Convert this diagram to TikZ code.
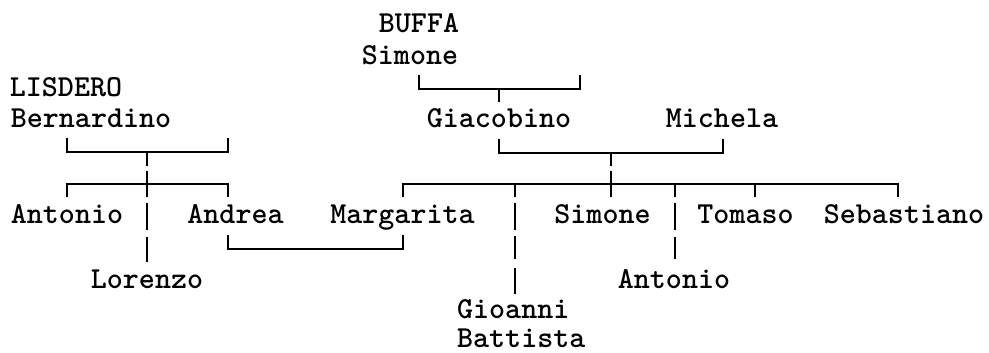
\documentclass[tikz,border=0pt]{standalone}
\begin{document}
\begin{tikzpicture}[x=1pt,y=-1pt,
  person/.style={font=\ttfamily\bfseries\fontsize{30.5}{32}\selectfont, inner sep=0pt, anchor=base, text depth=0pt},
  link/.style={line width=1.6pt, line cap=butt}]
\useasboundingbox[fill=white] (0,0) rectangle (989,353);
% names
\node[person] (buffa) at (419,33) {BUFFA};
\node[person] (simoneB) at (410,65) {Simone};
\node[person] (lisdero) at (66,97) {LISDERO};
\node[person] (bern) at (91,128) {Bernardino};
\node[person] (giac) at (499,128) {Giacobino};
\node[person] (mich) at (722,128) {Michela};
\node[person] (anton) at (67,223) {Antonio};
\node[person] (andrea) at (235.5,223) {Andrea};
\node[person] (marg) at (402.5,223) {Margarita};
\node[person] (simoneC) at (602.5,223) {Simone};
\node[person] (tomaso) at (745.5,223) {Tomaso};
\node[person] (sebast) at (904,223) {Sebastiano};
\node[person] (lorenzo) at (147,288) {Lorenzo};
\node[person] (antonB) at (674,288) {Antonio};
\node[person, anchor=base west] (gioanni) at (457,318.5) {Gioanni};
\node[person, anchor=base west] (battista) at (457,347.5) {Battista};
% junction coordinates
\coordinate (bufA) at (419,75); \coordinate (bufB) at (580,75);
\coordinate (bufM) at (499,89);
\coordinate (gmA) at (499,139); \coordinate (gmB) at (723,139);
\coordinate (gmM) at (611,153);
\coordinate (bnA) at (67,138); \coordinate (bnB) at (228,138);
\coordinate (bnM) at (147,152);
\coordinate (mrA) at (228,235); \coordinate (mrB) at (403,235);
% BUFFA Simone -> Giacobino
\draw[link] (bufA) |- (bufB |- bufM) -- (bufB);
\draw[link] (bufM) -- (499,102);
% Giacobino + Michela
\draw[link] (gmA) |- (gmB |- gmM) -- (gmB);
\draw[link] (gmM) -- (611,166);
\draw[link] (611,171) -- (611,197);
% LISDERO Bernardino
\draw[link] (bnA) |- (bnB |- bnM) -- (bnB);
\draw[link] (bnM) -- (147,166);
\draw[link] (147,171) -- (147,197);
\draw[link] (147,203) -- (147,230);
\draw[link] (147,237) -- (147,262);
% left children line
\draw[link] (67,197) |- (228,184) -- (228,197);
% right children line
\draw[link] (403,197) |- (898,184) -- (898,197);
\foreach \xx in {515,675,755} \draw[link] (\xx,184) -- (\xx,197);
% Gioanni Battista line
\draw[link] (515,203) -- (515,230);
\draw[link] (515,236) -- (515,259);
\draw[link] (515,268) -- (515,294);
% Antonio line
\draw[link] (675,203) -- (675,230);
\draw[link] (675,237) -- (675,259);
% Andrea + Margarita
\draw[link] (mrA) |- (mrB |- 0,249) -- (mrB);
\end{tikzpicture}
\end{document}
